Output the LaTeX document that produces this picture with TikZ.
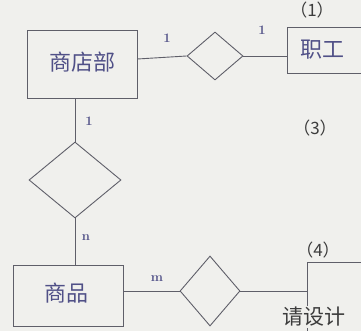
\documentclass[tikz,border=0pt]{standalone}
\usepackage{fontspec}
\newfontfamily\cjk{Noto Sans CJK SC}
\usetikzlibrary{shapes.geometric}
\definecolor{paper}{RGB}{240,240,237}
\definecolor{pencil}{RGB}{95,95,105}
\definecolor{ink}{RGB}{80,80,135}
\definecolor{printc}{RGB}{60,60,60}
\tikzset{
  entity/.style={draw=pencil, line width=0.9pt, rectangle, inner sep=0pt},
  rel/.style={draw=pencil, line width=0.9pt, diamond, inner sep=0pt},
  conn/.style={draw=pencil, line width=0.9pt},
  hand/.style={text=ink, font=\cjk\fontsize{22}{22}\selectfont},
  card/.style={text=ink, font=\fontsize{13}{13}\selectfont\bfseries},
  printed/.style={text=printc, font=\cjk\fontsize{17}{17}\selectfont},
}
\begin{document}
\begin{tikzpicture}[x=1pt,y=-1pt]
\useasboundingbox (0,0) rectangle (361,331);
\fill[paper] (0,0) rectangle (361,331);
\clip (0,0) rectangle (361,331);
% entities
\node[entity, minimum width=110pt, minimum height=68pt] (e1) at (82,64) {};
\node[hand] (t1) at (82,62) {商店部};
\node[entity, minimum width=90pt, minimum height=46pt, anchor=north west] (e2) at (287,27) {};
\node[hand] (t2) at (322,50) {职工};
\node[entity, minimum width=110pt, minimum height=61pt] (e3) at (68,296) {};
\node[hand] (t3) at (66,293) {商品};
\node[entity, minimum width=70pt, minimum height=80pt, anchor=north west] (e4) at (307,262) {};
% relationships
\node[rel, minimum width=56pt, minimum height=48pt] (r1) at (215,56) {};
\node[rel, minimum width=92pt, minimum height=76pt] (r2) at (75,180) {};
\node[rel, minimum width=60pt, minimum height=70pt] (r3) at (210,291) {};
% connectors
\draw[conn] (e1.east |- 0,59) -- (r1.west);
\draw[conn] (r1.east) -- (e2.west |- r1.east);
\draw[conn] (e1.south -| r2.north) -- (r2.north);
\draw[conn] (r2.south) -- (e3.north -| r2.south);
\draw[conn] (e3.east |- r3.west) -- (r3.west);
\coordinate (c4) at (e4.west |- r3.east);
\draw[conn] (r3.east) -- (c4);
% cardinalities
\node[card] (k1) at (167,38) {1};
\node[card] (k2) at (262,30) {1};
\node[card] (k3) at (89,121) {1};
\node[card] (k4) at (86,238) {n};
\node[card] (k5) at (157,279) {m};
% printed text
\node[printed] (p1) at (312,10) {（1）};
\node[printed] (p3) at (315,128) {（3）};
\node[printed] (p4) at (318,250) {（4）};
\node[printed, fill=paper, inner sep=1pt, anchor=west, font=\cjk\fontsize{21}{21}\selectfont] (p5) at (281,317) {请设计};
\end{tikzpicture}
\end{document}
